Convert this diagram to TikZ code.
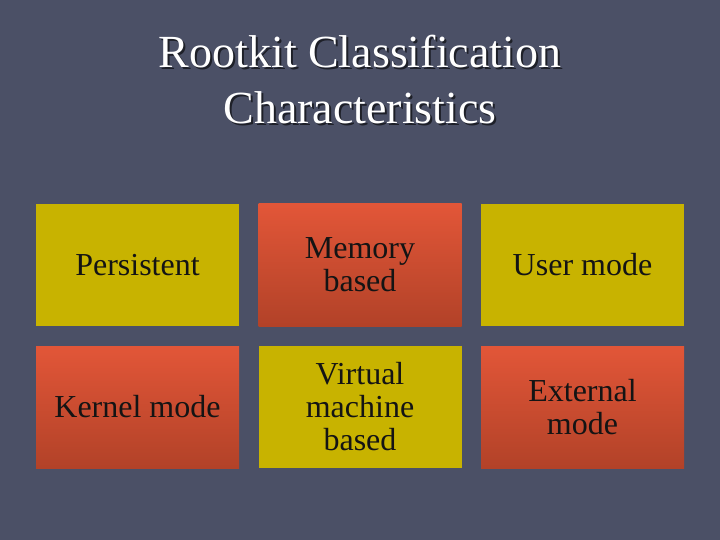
\documentclass[tikz,border=0pt]{standalone}
\usepackage{fontspec}
\setmainfont{Liberation Serif}
\definecolor{bgc}{RGB}{75,80,102}
\definecolor{yelc}{RGB}{200,179,0}
\definecolor{orat}{RGB}{226,86,56}
\definecolor{orab}{RGB}{178,66,40}
\definecolor{txc}{RGB}{20,20,20}
\begin{document}
\begin{tikzpicture}[x=1pt,y=-1pt,
  yel/.style={fill=yelc},
  ora/.style={top color=orat,bottom color=orab},
  cell/.style={minimum width=203pt,minimum height=122pt,inner sep=0pt,draw=none,align=center,font=\fontsize{32}{33}\selectfont,text=txc},
  ttl/.style={font=\fontsize{46}{48}\selectfont,text=white}]
\fill[bgc] (0,0) rectangle (720,540);
\useasboundingbox (0,0) rectangle (720,540);
\node[ttl,text=black,opacity=0.6] at (362,54) {Rootkit Classification};
\node[ttl,text=black,opacity=0.6] at (362,110) {Characteristics};
\node[ttl] (t1) at (360,52) {Rootkit Classification};
\node[ttl] (t2) at (360,108) {Characteristics};
\node[cell,yel] (a) at (137.5,265) {Persistent};
\node[cell,ora] (b) at (360,265) {Memory\\based};
\node[cell,yel] (c) at (582.5,265) {User mode};
\node[cell,ora] (d) at (137.5,407) {Kernel mode};
\node[cell,yel] (e) at (360,407) {Virtual\\machine\\based};
\node[cell,ora] (f) at (582.5,407) {External\\mode};
\end{tikzpicture}
\end{document}
